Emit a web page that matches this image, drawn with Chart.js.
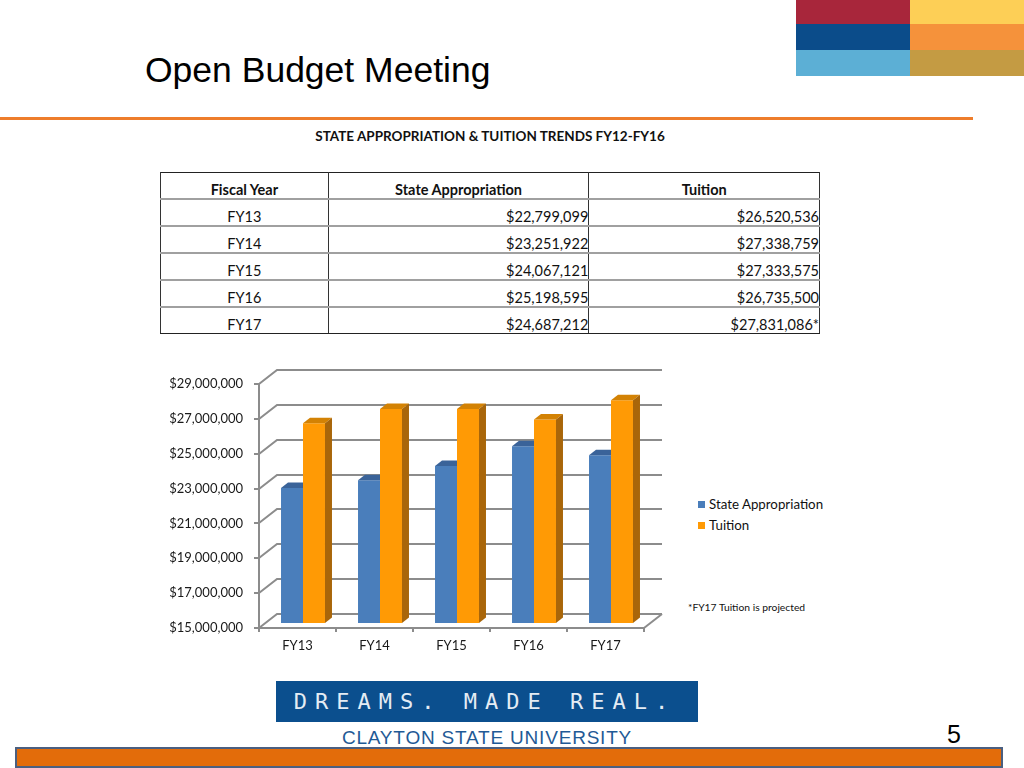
<!DOCTYPE html>
<html>
<head>
<meta charset="utf-8">
<title>Open Budget Meeting</title>
<script src="https://cdn.jsdelivr.net/npm/chart.js@4.4.1/dist/chart.umd.min.js"></script>
<style>
    html, body { margin: 0; padding: 0; }
    body {
        width: 1024px; height: 768px; position: relative; overflow: hidden;
        background: #fff; font-family: Lato, "Noto Sans", sans-serif; color: #111;
    }
    .abs { position: absolute; }
    .block { position: absolute; width: 114px; height: 26px; }
    #title {
        left: 145px; top: 50px; font-family: "Liberation Sans", Arial, sans-serif;
        font-size: 35.5px; color: #000; white-space: nowrap;
    }
    #rule { left: 0; top: 117px; width: 973px; height: 3px; background: #EE7D2B; }
    #subtitle {
        left: 240px; width: 500px; top: 128px; text-align: center;
        font-size: 13.5px; font-weight: 700; white-space: nowrap;
    }
    #budgetTable {
        position: absolute; left: 160px; top: 172px; width: 660px;
        border-collapse: collapse; font-size: 14.5px; border: 1px solid #222;
    }
    #budgetTable th, #budgetTable td {
        height: 25px; padding: 0; border-left: 1px solid #333; border-right: 1px solid #333;
        border-bottom: 2px solid #a0a0a0; white-space: nowrap; vertical-align: bottom; line-height: 16px;
        box-sizing: content-box;
    }
    #budgetTable tr:last-child td { border-bottom: 1px solid #222; }
    #budgetTable th { font-weight: 700; text-align: center; }
    #budgetTable td { text-align: right; }
    #budgetTable td:first-child { text-align: center; }
    #chartBox { left: 160px; top: 360px; width: 520px; height: 300px; }
    #legend { left: 698px; top: 495px; font-size: 13.3px; }
    #legend div { height: 21px; line-height: 18px; white-space: nowrap; }
    #legend span.sw { display: inline-block; width: 7px; height: 7px; margin-right: 4px; vertical-align: 1px; }
    #note { left: 688px; top: 601px; font-size: 10.3px; white-space: nowrap; }
    #banner { left: 276px; top: 681px; width: 422px; height: 41px; background: #0B4F8E; }
    #bannerText {
        left: -2px; top: 8px; width: 422px; text-align: center; color: #E4ECF4;
        font-family: "DejaVu Sans Mono", monospace; font-size: 22px; letter-spacing: 8px;
        white-space: nowrap;
    }
    #university {
        left: 257px; width: 460px; top: 727px; text-align: center; color: #1F5A96;
        font-family: "Liberation Sans", Arial, sans-serif; font-size: 19px; letter-spacing: 0.8px;
        white-space: nowrap;
    }
    #pageNum { left: 947px; top: 720px; font-family: "Liberation Sans", Arial, sans-serif; font-size: 25px; color: #000; }
    #footerBar {
        left: 15px; top: 747px; width: 988px; height: 21px; box-sizing: border-box;
        background: #E36C0A; border: 2px solid #4B5F80;
    }
</style>
</head>
<body>
<div class="block" style="left:796px;top:0;height:24px;background:#A8263B"></div>
<div class="block" style="left:910px;top:0;height:24px;background:#FDCF56"></div>
<div class="block" style="left:796px;top:24px;background:#0B4C8A"></div>
<div class="block" style="left:910px;top:24px;background:#F5923B"></div>
<div class="block" style="left:796px;top:50px;background:#5CAFD5"></div>
<div class="block" style="left:910px;top:50px;background:#C49B43"></div>

<div id="title" class="abs">Open Budget Meeting</div>
<div id="rule" class="abs"></div>
<div id="subtitle" class="abs">STATE APPROPRIATION &amp; TUITION TRENDS FY12-FY16</div>

<table id="budgetTable">
    <colgroup><col style="width:168px"><col style="width:261px"><col style="width:231px"></colgroup>
    <thead><tr><th>Fiscal Year</th><th>State Appropriation</th><th>Tuition</th></tr></thead>
    <tbody id="tableBody"></tbody>
</table>

<div id="chartBox" class="abs"><canvas id="trendChart" width="520" height="300"></canvas></div>
<div id="legend" class="abs"></div>
<div id="note" class="abs">*FY17 Tuition is projected</div>

<div id="banner" class="abs"><div id="bannerText" class="abs">DREAMS. MADE REAL.</div></div>
<div id="university" class="abs">CLAYTON STATE UNIVERSITY</div>
<div id="pageNum" class="abs">5</div>
<div id="footerBar" class="abs"></div>

<script>
// Data
const fiscalYears = ['FY13', 'FY14', 'FY15', 'FY16', 'FY17'];
const stateAppropriation = [22799099, 23251922, 24067121, 25198595, 24687212];
const tuition = [26520536, 27338759, 27333575, 26735500, 27831086];
const tuitionProjected = [false, false, false, false, true];
const axisMin = 15000000;
const axisMax = 29000000;
const axisStep = 2000000;

// 3D look: back wall offset, bar plane offset, bar depth
const wallDepth = { x: 18, y: -14 };
const barShift = { x: 5.5, y: -4 };
const barDepth = { x: 7, y: -5.5 };

function money(v) {
    return '$' + Number(v).toLocaleString('en-US');
}

// Fill the table
const tbody = document.getElementById('tableBody');
fiscalYears.forEach(function (fy, i) {
    const tr = document.createElement('tr');
    tr.innerHTML = '<td>' + fy + '</td><td>' + money(stateAppropriation[i]) + '</td><td>' +
        money(tuition[i]) + (tuitionProjected[i] ? '*' : '') + '</td>';
    tbody.appendChild(tr);
});

// Draws the back wall and the bars with top and side faces
const bars3d = {
    id: 'bars3d',
    beforeDatasetsDraw(chart) {
        const ctx = chart.ctx;
        const area = chart.chartArea;
        const yScale = chart.scales.y;

        ctx.save();
        ctx.strokeStyle = '#8c8c8c';
        ctx.lineWidth = 2;
        yScale.ticks.forEach(function (t) {
            const py = Math.round(yScale.getPixelForValue(t.value));
            ctx.beginPath();
            ctx.moveTo(area.left, py);
            ctx.lineTo(area.left + wallDepth.x, py + wallDepth.y);
            ctx.lineTo(area.right + wallDepth.x, py + wallDepth.y);
            ctx.stroke();
        });
        ctx.beginPath();
        ctx.moveTo(area.right, area.bottom);
        ctx.lineTo(area.right + wallDepth.x, area.bottom + wallDepth.y);
        ctx.stroke();
        ctx.restore();

        chart.data.datasets.forEach(function (ds, i) {
            const meta = chart.getDatasetMeta(i);
            meta.data.forEach(function (bar) {
                const p = bar.getProps(['x', 'y', 'base', 'width'], true);
                const l = p.x - p.width / 2;
                const r = p.x + p.width / 2;
                ctx.save();
                ctx.translate(barShift.x, barShift.y);
                bar.draw(ctx);
                // top face
                ctx.fillStyle = ds.topColor;
                ctx.beginPath();
                ctx.moveTo(l, p.y);
                ctx.lineTo(r, p.y);
                ctx.lineTo(r + barDepth.x, p.y + barDepth.y);
                ctx.lineTo(l + barDepth.x, p.y + barDepth.y);
                ctx.closePath();
                ctx.fill();
                // side face
                ctx.fillStyle = ds.sideColor;
                ctx.beginPath();
                ctx.moveTo(r, p.y);
                ctx.lineTo(r + barDepth.x, p.y + barDepth.y);
                ctx.lineTo(r + barDepth.x, p.base + barDepth.y);
                ctx.lineTo(r, p.base);
                ctx.closePath();
                ctx.fill();
                ctx.restore();
            });
        });
        return false;
    }
};

Chart.defaults.font.family = 'Lato';
Chart.defaults.color = '#1a1a1a';

const trendChart = new Chart(document.getElementById('trendChart').getContext('2d'), {
    type: 'bar',
    data: {
        labels: fiscalYears,
        datasets: [{
            label: 'State Appropriation',
            data: stateAppropriation,
            base: axisMin,
            backgroundColor: '#4A7EBB',
            topColor: '#3A6399',
            sideColor: '#2F5283',
            borderWidth: 0,
            categoryPercentage: 0.571,
            barPercentage: 1.0
        }, {
            label: 'Tuition',
            data: tuition,
            base: axisMin,
            backgroundColor: '#FF9A05',
            topColor: '#D38204',
            sideColor: '#A9660A',
            borderWidth: 0,
            categoryPercentage: 0.571,
            barPercentage: 1.0
        }]
    },
    options: {
        responsive: false,
        animation: false,
        events: [],
        layout: { padding: { top: 24, right: 36, left: 0, bottom: 0 } },
        scales: {
            y: {
                min: axisMin,
                max: axisMax,
                afterFit: function (scale) { scale.width = 99; },
                ticks: {
                    stepSize: axisStep,
                    padding: 11,
                    font: { size: 13 },
                    callback: function (v) { return money(v); }
                },
                grid: { drawOnChartArea: false, drawTicks: true, tickLength: 5, color: '#8c8c8c', lineWidth: 2 },
                border: { display: true, color: '#8c8c8c', width: 2 }
            },
            x: {
                afterFit: function (scale) { scale.height = 32; },
                ticks: { padding: 6, font: { size: 13 } },
                grid: { offset: true, drawOnChartArea: false, drawTicks: true, tickLength: 4, color: '#8c8c8c', lineWidth: 2 },
                border: { display: true, color: '#8c8c8c', width: 2 }
            }
        },
        plugins: {
            legend: { display: false },
            tooltip: { enabled: false }
        }
    },
    plugins: [bars3d]
});

// HTML legend from the chart datasets
const legendBox = document.getElementById('legend');
trendChart.data.datasets.forEach(function (ds) {
    const row = document.createElement('div');
    row.innerHTML = '<span class="sw" style="background:' + ds.backgroundColor + '"></span>' + ds.label;
    legendBox.appendChild(row);
});
</script>
</body>
</html>
